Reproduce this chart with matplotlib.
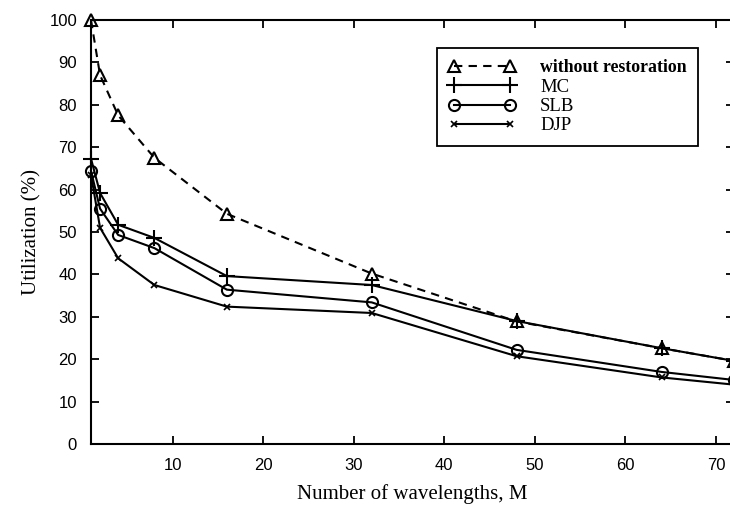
import matplotlib
matplotlib.use('Agg')
import matplotlib.pyplot as plt

# number of wavelengths
wavelengths = [1, 2, 4, 8, 16, 32, 48, 64, 72]

# utilization (%)
no_restoration = [100, 87, 77.5, 67.5, 54.3, 40.2, 28.9, 22.6, 19.6]
mc = [67.3, 59.2, 51.7, 48.6, 39.6, 37.5, 29.0, 22.6, 19.6]
slb = [64.4, 55.5, 49.3, 46.2, 36.4, 33.4, 22.2, 17.0, 15.1]
djp = [63.5, 51.0, 43.8, 37.5, 32.4, 30.9, 20.7, 15.7, 14.0]

tick_font = {'family': 'Liberation Sans', 'size': 12}
label_font = {'family': 'Liberation Serif', 'size': 15}

fig = plt.figure(figsize=(7.3, 5.05), dpi=100)
ax = fig.add_axes([91 / 730, 61 / 505, 643 / 730, 424 / 505])

ax.plot(wavelengths, no_restoration, color='black', linestyle='--', linewidth=1.5,
        marker='^', markersize=8, markerfacecolor='none', markeredgewidth=1.5,
        dashes=(4, 3), clip_on=False, label='without restoration')
ax.plot(wavelengths, mc, color='black', linewidth=1.5, marker='+', markersize=11,
        markeredgewidth=1.5, clip_on=False, label='MC')
ax.plot(wavelengths, slb, color='black', linewidth=1.5, marker='o', markersize=8,
        markerfacecolor='none', markeredgewidth=1.5, clip_on=False, label='SLB')
ax.plot(wavelengths, djp, color='black', linewidth=1.5, marker='x', markersize=4,
        markeredgewidth=1.2, clip_on=False, label='DJP')

ax.set_xlim(1, 72)
ax.set_ylim(0, 100)
ax.set_xticks(range(10, 80, 10))
ax.set_yticks(range(0, 110, 10))
ax.tick_params(direction='in', length=6, width=1.3, top=True, right=True, pad=10)
for lab in ax.get_xticklabels() + ax.get_yticklabels():
    lab.set_fontfamily(tick_font['family'])
    lab.set_fontsize(tick_font['size'])
for sp in ax.spines.values():
    sp.set_linewidth(1.5)

ax.set_xlabel('Number of wavelengths, M', fontdict=label_font, labelpad=8)
ax.set_ylabel('Utilization (%)', fontdict=label_font, labelpad=6)

leg = ax.legend(loc='upper left', bbox_to_anchor=(437 / 730, 1 - 48 / 505),
                bbox_transform=fig.transFigure, frameon=True, fancybox=False,
                edgecolor='black', framealpha=1, numpoints=2, borderaxespad=0,
                handlelength=3.6, handletextpad=1.3, labelspacing=0.12,
                borderpad=0.6, prop={'family': 'Liberation Serif', 'size': 13.5})
leg.get_frame().set_linewidth(1.3)
leg.texts[0].set_fontweight('bold')
leg.texts[0].set_fontsize(12.8)

fig.savefig('out.png', dpi=100)
